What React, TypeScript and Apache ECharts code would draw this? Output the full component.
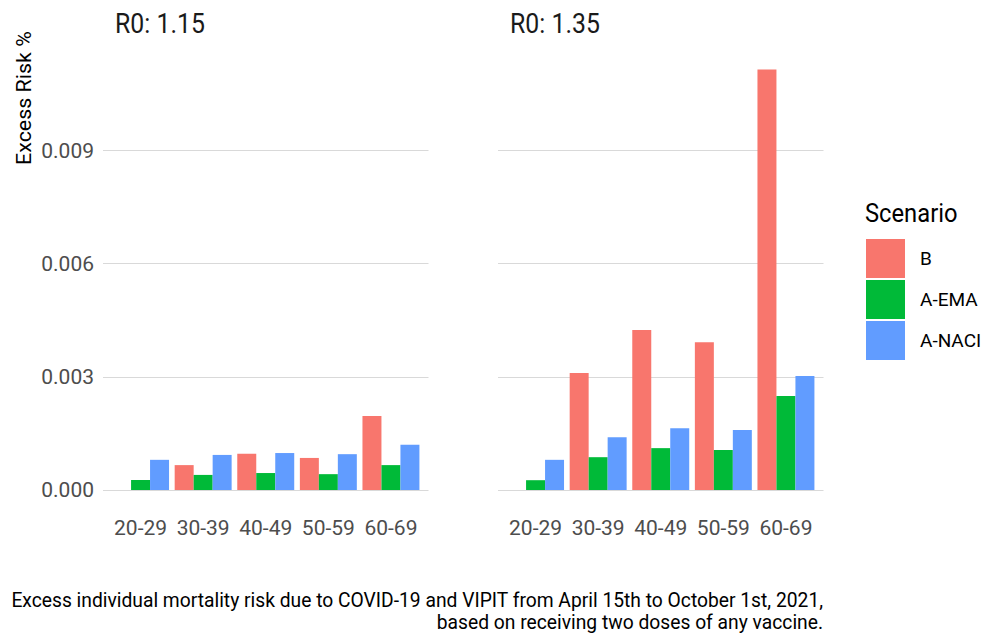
import React, { useEffect, useRef } from "react";
import * as echarts from "echarts";

const ageGroups = ["20-29", "30-39", "40-49", "50-59", "60-69"];
const scenarios = ["B", "A-EMA", "A-NACI"];
const panelTitles = ["R0: 1.15", "R0: 1.35"];
const colors = ["#F8766D", "#00BA38", "#619CFF"];

// R0 = 1.15
const r115_B = [0, 0.00066, 0.00096, 0.00085, 0.00196];
const r115_EMA = [0.000265, 0.0004, 0.00045, 0.00042, 0.00066];
const r115_NACI = [0.0008, 0.00093, 0.00098, 0.00095, 0.0012];
// R0 = 1.35
const r135_B = [0, 0.0031, 0.00424, 0.00392, 0.01115];
const r135_EMA = [0.00026, 0.00087, 0.00111, 0.00106, 0.00249];
const r135_NACI = [0.0008, 0.0014, 0.00164, 0.00159, 0.00302];

const yTicks = [0, 0.003, 0.006, 0.009];
const captionLines = [
  "Excess individual mortality risk due to COVID-19 and VIPIT from April 15th to October 1st, 2021,",
  "based on receiving two doses of any vaccine.",
];

const FONT = "Roboto, sans-serif";

export default function App() {
  const ref = useRef<HTMLDivElement>(null);
  useEffect(() => {
    if (!ref.current) return;
    const chart = echarts.init(ref.current, null, { renderer: "svg" });
    const panels = [
      [r115_B, r115_EMA, r115_NACI],
      [r135_B, r135_EMA, r135_NACI],
    ];
    const panelLefts = [103, 498];
    const panelW = 325.5;
    const step = panelW / 5.2;
    const top = 37.4;
    const bottom = 145;
    const grids: any[] = [];
    const xAxes: any[] = [];
    const yAxes: any[] = [];
    panelLefts.forEach((l, i) => {
      // background grid: panel extent with horizontal gridlines and y labels
      grids.push({ left: l, width: panelW, top, bottom });
      // bar grid: ggplot's 0.6-unit discrete expansion
      grids.push({ left: l + 0.1 * step, width: 5 * step, top, bottom });
      const gBg = i * 2;
      const gBar = i * 2 + 1;
      xAxes.push({ type: "category", gridIndex: gBg, data: ageGroups, show: false });
      xAxes.push({
        type: "category",
        gridIndex: gBar,
        data: ageGroups,
        axisLine: { show: false },
        axisTick: { show: false },
        axisLabel: { color: "#4d4d4d", fontSize: 21, fontFamily: FONT, margin: 27, interval: 0 },
        splitLine: { show: false },
      });
      yAxes.push({
        type: "value",
        gridIndex: gBg,
        min: 0,
        max: 0.012,
        interval: 0.003,
        axisLine: { show: false },
        axisTick: { show: false },
        axisLabel: {
          show: i === 0,
          color: "#4d4d4d",
          fontSize: 21,
          fontFamily: FONT,
          margin: 9,
          showMaxLabel: false,
          formatter: (v: number) => (yTicks.includes(Math.round(v * 1000) / 1000) ? v.toFixed(3) : ""),
        },
        splitLine: { show: true, showMaxLine: false, lineStyle: { color: "#d9d9d9", width: 1 } },
      });
      yAxes.push({ type: "value", gridIndex: gBar, min: 0, max: 0.012, show: false, splitLine: { show: false } });
    });
    const series: any[] = [];
    panels.forEach((p, pi) => {
      p.forEach((vals, si) => {
        series.push({
          type: "bar",
          name: scenarios[si],
          xAxisIndex: pi * 2 + 1,
          yAxisIndex: pi * 2 + 1,
          data: vals,
          barGap: "0%",
          barCategoryGap: "9%",
          itemStyle: { color: colors[si] },
        });
      });
    });
    const txt = (text: string, x: number, y: number, size: number, fill: string, align: string, scaleX = 1, rotation = 0) => ({
      type: "text",
      x,
      y,
      scaleX,
      rotation,
      style: { text, font: `${size}px ${FONT}`, fill, align, verticalAlign: "middle" },
    });
    chart.setOption({
      animation: false,
      textStyle: { fontFamily: FONT },
      grid: grids,
      xAxis: xAxes,
      yAxis: yAxes,
      series,
      legend: {
        data: scenarios,
        orient: "vertical",
        left: 866,
        top: 239,
        padding: 0,
        itemWidth: 39,
        itemHeight: 39,
        itemGap: 2,
        icon: "rect",
        textStyle: { fontSize: 19, color: "#000", fontFamily: FONT, padding: [0, 0, 0, 10] },
      },
      graphic: [
        txt(panelTitles[0], 115, 24, 27, "#1a1a1a", "left", 0.92),
        txt(panelTitles[1], 510, 24, 27, "#1a1a1a", "left", 0.92),
        txt("Scenario", 865, 213, 25, "#000", "left", 0.95),
        txt("Excess Risk %", 24, 98, 21, "#000", "center", 1.02, Math.PI / 2),
        txt(captionLines[0], 823, 600, 20, "#000", "right", 0.963),
        txt(captionLines[1], 823, 622, 20, "#000", "right", 0.963),
      ],
    });
    return () => chart.dispose();
  }, []);
  return <div ref={ref} style={{ width: 982, height: 635, position: "absolute", left: 0, top: 0 }} />;
}
